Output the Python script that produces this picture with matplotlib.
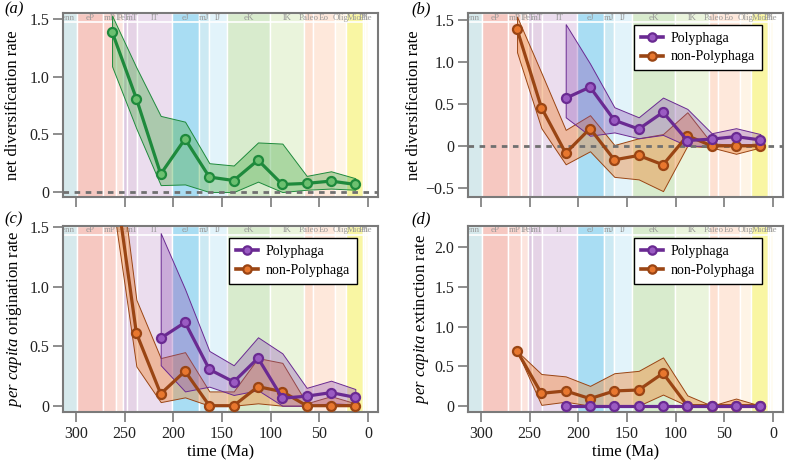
import matplotlib
matplotlib.use("Agg")
import matplotlib.pyplot as plt
import matplotlib.transforms as mtransforms
from matplotlib.lines import Line2D

plt.rcParams['font.family'] = ['Liberation Serif', 'DejaVu Serif']
plt.rcParams['mathtext.fontset'] = 'custom'
plt.rcParams['mathtext.rm'] = 'Liberation Serif'
plt.rcParams['mathtext.it'] = 'Liberation Serif:italic'

# ---------------- data ----------------
times = [263, 238, 213, 188, 163, 138, 113, 88, 63, 38, 13]
poly_times = [213, 188, 163, 138, 113, 88, 63, 38, 13]

net_all = [1.39, 0.81, 0.156, 0.46, 0.13, 0.10, 0.277, 0.066, 0.075, 0.095, 0.066]
net_all_hi = [1.53, 1.08, 0.66, 0.61, 0.25, 0.23, 0.43, 0.42, 0.14, 0.18, 0.12]
net_all_lo = [1.09, 0.55, 0.06, 0.066, 0.0, 0.0, 0.09, 0.0, 0.02, 0.03, 0.02]

poly_net = [0.567, 0.70, 0.305, 0.20, 0.40, 0.063, 0.08, 0.11, 0.07]
poly_net_hi = [1.45, 0.98, 0.46, 0.34, 0.575, 0.44, 0.15, 0.21, 0.14]
poly_net_lo = [0.34, 0.12, 0.16, 0.09, 0.13, 0.0, 0.0, 0.02, 0.01]

non_net = [1.39, 0.456, -0.087, 0.206, -0.167, -0.115, -0.226, 0.12, 0.0, 0.0, 0.0]
non_net_hi = [1.54, 0.87, 0.19, 0.365, 0.01, 0.09, 0.14, 0.40, 0.03, 0.01, 0.03]
non_net_lo = [1.115, 0.21, -0.22, -0.065, -0.37, -0.40, -0.54, 0.0, -0.02, -0.095, -0.02]

poly_orig = [0.567, 0.70, 0.305, 0.20, 0.40, 0.063, 0.08, 0.11, 0.07]
poly_orig_hi = [1.45, 0.98, 0.46, 0.34, 0.575, 0.44, 0.15, 0.21, 0.14]
poly_orig_lo = [0.34, 0.12, 0.16, 0.09, 0.13, 0.0, 0.0, 0.02, 0.01]

non_orig = [2.08, 0.61, 0.10, 0.29, 0.0, 0.0, 0.16, 0.118, 0.0, 0.0, 0.0]
non_orig_hi = [2.5, 0.89, 0.40, 0.45, 0.12, 0.12, 0.40, 0.36, 0.02, 0.08, 0.02]
non_orig_lo = [1.75, 0.33, 0.03, 0.07, 0.0, 0.0, 0.02, 0.0, 0.0, 0.0, 0.0]

poly_ext = [0, 0, 0, 0, 0, 0, 0, 0, 0]

non_ext = [0.69, 0.156, 0.186, 0.089, 0.186, 0.198, 0.41, 0.0, 0.0, 0.0, 0.0]
non_ext_hi = [0.69, 0.40, 0.37, 0.25, 0.41, 0.44, 0.61, 0.13, 0.0, 0.09, 0.0]
non_ext_lo = [0.69, 0.01, 0.05, 0.0, 0.0, 0.0, 0.14, 0.0, 0.0, 0.0, 0.0]

# geological intervals
int_names = ["Penn", "eP", "mP", "lP", "eT", "mT", "lT", "eJ", "mJ", "lJ",
             "eK", "lK", "Paleo", "Eo", "Olig", "Mio", "Pli", "Ple"]
int_start = [323.2, 298.9, 272.3, 259.1, 251.9, 247.2, 237.0, 201.3, 174.1, 163.5,
             145.0, 100.5, 66.0, 56.0, 33.9, 23.0, 5.3, 2.6]
int_end = [298.9, 272.3, 259.1, 251.9, 247.2, 237.0, 201.3, 174.1, 163.5, 145.0,
           100.5, 66.0, 56.0, 33.9, 23.0, 5.3, 2.6, 0.0]
int_colors = ["#D6E9EC", "#F6C8C1", "#F9D4CD", "#FCE4DE", "#DCC8E0", "#E5D3E6",
              "#EBDDEE", "#A9DDF3", "#CCE9F3", "#E2F3FA", "#D8EBCD", "#EAF4DC",
              "#FDE1D2", "#FEE8DB", "#FEF4E6", "#F9F6A3", "#FEFCE0", "#FFFCF0"]

xticks = [300, 250, 200, 150, 100, 50, 0]

# ---------------- styles ----------------
W, H = 786, 461
fig = plt.figure(figsize=(W / 100, H / 100), dpi=100)

GREEN = "#1E8A3C"; GREEN_FACE = "#6CC070"; GREEN_FILL = (0.30, 0.68, 0.30, 0.40)
PURPLE = "#6A2A92"; PURPLE_FACE = "#9A5BC2"; PURPLE_FILL = (0.55, 0.30, 0.70, 0.34)
BROWN = "#9A4514"; BROWN_FACE = "#E8772E"; BROWN_FILL = (0.94, 0.52, 0.20, 0.42)
AXC = "#7a7a7a"
XLIM = (313.4, -10.3)


def make_ax(left, top, right, bottom):
    return fig.add_axes([left / W, 1 - bottom / H, (right - left) / W, (bottom - top) / H])


def base(ax, ylim, yticks, ylabels, xlabels):
    ax.set_xlim(*XLIM)
    ax.set_ylim(*ylim)
    for nm, s, e, c in zip(int_names, int_start, int_end, int_colors):
        ax.axvspan(e, s, facecolor=c, edgecolor="white", linewidth=1.0, zorder=0)
    trans = mtransforms.blended_transform_factory(ax.transData, ax.transAxes)
    strip = 1 - 9 / ((ax.get_position().height) * H)
    ax.plot([0, 1], [strip, strip], transform=ax.transAxes, color="white", lw=1.2, zorder=1)
    for nm, s, e in zip(int_names, int_start, int_end):
        ax.text((s + e) / 2, (1 + strip) / 2, nm, transform=trans, ha="center", va="center",
                fontsize=6.5, color="#999999", zorder=1, clip_on=True)
    for sp in ax.spines.values():
        sp.set_color(AXC)
        sp.set_linewidth(1.5)
    ax.set_xticks(xticks)
    ax.set_yticks(yticks)
    ax.set_yticklabels(ylabels)
    if xlabels:
        ax.set_xticklabels([str(t) for t in xticks])
        ax.set_xlabel("time (Ma)", fontsize=12, labelpad=2)
    else:
        ax.set_xticklabels([])
    ax.tick_params(direction="out", length=7, width=1.2, color=AXC, labelsize=11.5,
                   labelcolor="#222222", pad=3)


def band(ax, x, lo, hi, fill, edge):
    ax.fill_between(x, lo, hi, facecolor=fill, edgecolor=edge, linewidth=0.7, zorder=2)


def series(ax, x, y, col, face):
    ax.plot(x, y, color=col, lw=2.3, marker="o", markersize=6.5, markerfacecolor=face,
            markeredgecolor=col, markeredgewidth=1.6, zorder=4)


def legend(ax):
    handles = [Line2D([], [], color=PURPLE, lw=2.6, marker="o", markersize=6,
                      markerfacecolor=PURPLE_FACE, markeredgecolor=PURPLE, markeredgewidth=1.6),
               Line2D([], [], color=BROWN, lw=2.6, marker="o", markersize=6,
                      markerfacecolor=BROWN_FACE, markeredgecolor=BROWN, markeredgewidth=1.6)]
    lg = ax.legend(handles, ["Polyphaga", "non-Polyphaga"], loc="upper right",
                   bbox_to_anchor=(0.933, 0.935), prop={"family": "Liberation Serif", "size": 10},
                   frameon=True, fancybox=False,
                   edgecolor="black", framealpha=1, borderpad=0.5, handlelength=1.6,
                   labelspacing=0.4, handletextpad=0.55, borderaxespad=0)
    lg.get_frame().set_linewidth(1.0)
    lg.set_zorder(6)


yt15 = [0, 0.5, 1.0, 1.5]
yl15 = ["0", "0.5", "1.0", "1.5"]

# (a)
axa = make_ax(63, 13, 378, 197)
base(axa, (-0.043, 1.552), yt15, yl15, False)
band(axa, times, net_all_lo, net_all_hi, GREEN_FILL, GREEN)
axa.axhline(0, color="#707070", lw=2, ls=(0, (2, 2)), zorder=3)
series(axa, times, net_all, GREEN, GREEN_FACE)
axa.set_ylabel("net diversification rate", fontsize=12, labelpad=6)

# (b)
axb = make_ax(468, 13, 783, 197)
base(axb, (-0.61, 1.583), [-0.5, 0, 0.5, 1.0, 1.5], ["\u22120.5", "0", "0.5", "1.0", "1.5"], False)
band(axb, times, non_net_lo, non_net_hi, BROWN_FILL, BROWN)
band(axb, poly_times, poly_net_lo, poly_net_hi, PURPLE_FILL, PURPLE)
axb.axhline(0, color="#707070", lw=2, ls=(0, (2, 2)), zorder=3)
series(axb, times, non_net, BROWN, BROWN_FACE)
series(axb, poly_times, poly_net, PURPLE, PURPLE_FACE)
axb.set_ylabel("net diversification rate", fontsize=12, labelpad=2)
legend(axb)

# (c)
axc = make_ax(63, 226, 378, 412)
base(axc, (-0.053, 1.51), yt15, yl15, True)
band(axc, times, non_orig_lo, non_orig_hi, BROWN_FILL, BROWN)
band(axc, poly_times, poly_orig_lo, poly_orig_hi, PURPLE_FILL, PURPLE)
series(axc, times, non_orig, BROWN, BROWN_FACE)
series(axc, poly_times, poly_orig, PURPLE, PURPLE_FACE)
axc.set_ylabel(r"$\mathit{per\ capita}$ origination rate", fontsize=12, labelpad=4)
legend(axc)

# (d)
axd = make_ax(468, 226, 783, 412)
base(axd, (-0.08, 2.27), [0, 0.5, 1.0, 1.5, 2.0], ["0", "0.5", "1.0", "1.5", "2.0"], True)
band(axd, times, non_ext_lo, non_ext_hi, BROWN_FILL, BROWN)
series(axd, times, non_ext, BROWN, BROWN_FACE)
series(axd, poly_times, poly_ext, PURPLE, PURPLE_FACE)
axd.set_ylabel(r"$\mathit{per\ capita}$ extinction rate", fontsize=12, labelpad=2)
legend(axd)

for lab, x, y in [("(a)", 4, 9), ("(b)", 411, 9), ("(c)", 4, 219), ("(d)", 411, 219)]:
    fig.text(x / W, 1 - y / H, lab, fontsize=12, style="italic", ha="left", va="center")

fig.savefig("out.png", dpi=100)
